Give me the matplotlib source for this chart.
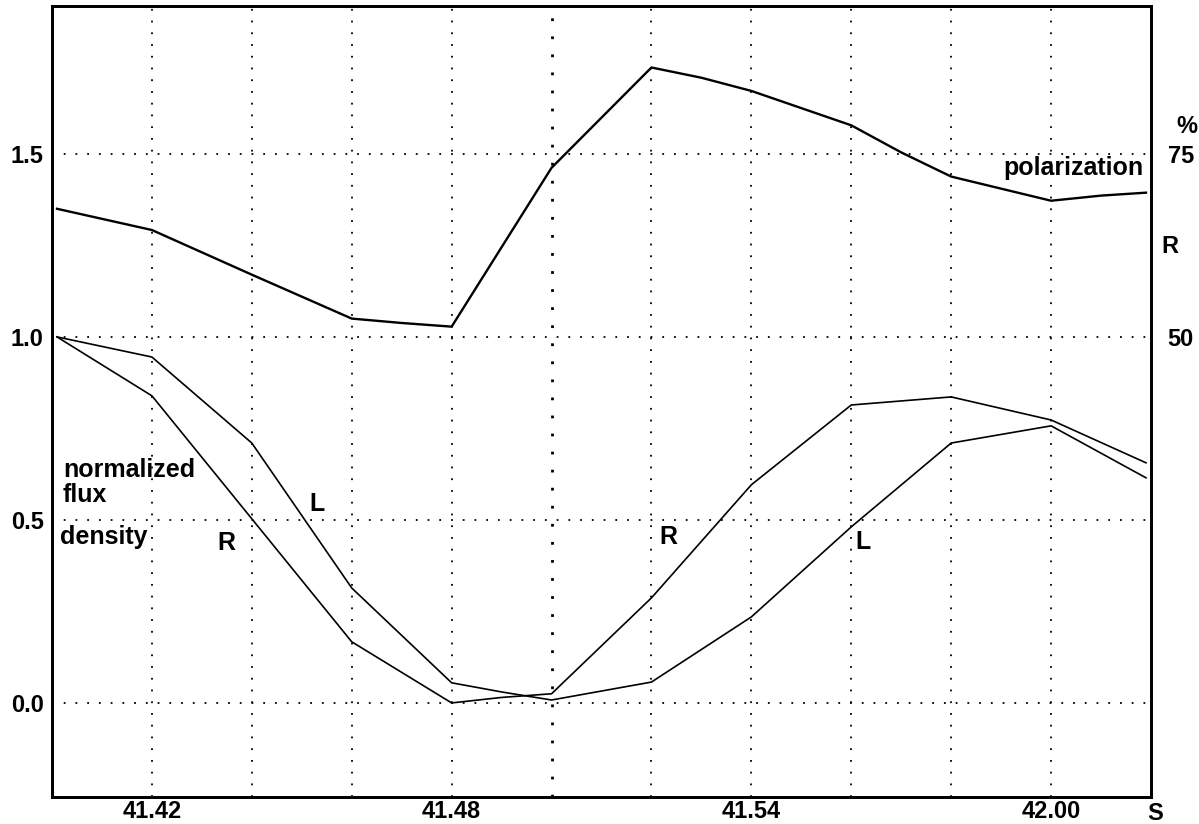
import numpy as np
import matplotlib
matplotlib.use('Agg')
import matplotlib.pyplot as plt

plt.rcParams['font.family'] = ['Liberation Sans', 'DejaVu Sans']
plt.rcParams['font.weight'] = 'bold'

# polarization (%)
t_pol = [41.401, 41.42, 41.44, 41.46, 41.47, 41.48, 41.50, 41.52, 41.53,
         41.54, 41.56, 41.57, 41.58, 41.60, 41.61, 41.619]
pol = [67.5, 64.6, 58.5, 52.5, 51.9, 51.4, 73.1, 86.8, 85.4,
       83.6, 78.9, 75.2, 71.9, 68.6, 69.3, 69.7]

# normalized flux density, R and L
t_flux = [41.401, 41.42, 41.44, 41.46, 41.48, 41.49, 41.50, 41.52, 41.54,
          41.56, 41.58, 41.60, 41.619]
flux_R = [1.0, 0.839, 0.503, 0.167, 0.0, 0.015, 0.025, 0.287, 0.596,
          0.814, 0.836, 0.773, 0.656]
flux_L = [1.0, 0.945, 0.710, 0.314, 0.055, 0.030, 0.008, 0.057, 0.235,
          0.481, 0.710, 0.757, 0.615]

grid_x = np.round(np.arange(41.42, 41.601, 0.02), 2)
xlabels = {41.42: '41.42', 41.48: '41.48', 41.54: '41.54', 41.60: '42.00'}
yticks = [0.0, 0.5, 1.0, 1.5]
ytick_labels = ['0.0', '0.5', '1.0', '1.5']
pct_ticks = [50, 75]

fig = plt.figure(figsize=(11.99, 8.24), dpi=100)
ax = fig.add_axes([52 / 1199, 27 / 824, 1099 / 1199, 791 / 824])

ax.plot(t_flux, flux_R, color='black', lw=1.2)
ax.plot(t_flux, flux_L, color='black', lw=1.2)

ax.set_xlim(41.40, 41.62)
ax.set_ylim(-0.257, 1.904)
ax.set_xticks(grid_x)
ax.set_xticklabels([xlabels.get(float(v), '') for v in grid_x])
ax.set_yticks(yticks)
ax.set_yticklabels(ytick_labels)
ax.tick_params(length=0, labelsize=17, pad=6)
ax.tick_params(axis='x', labelsize=17, pad=2.5)
ax.grid(True, color='black', lw=1.3, linestyle=(0, (1, 5.5)))
for v, gl in zip(grid_x, ax.get_xgridlines()):
    if abs(v - 41.50) < 1e-6:
        gl.set_linewidth(2.0)

ax2 = ax.twinx()
ax2.plot(t_pol, pol, color='black', lw=1.7)
lo, hi = ax.get_ylim()
ax2.set_ylim(lo * 50, hi * 50)
ax2.set_yticks(pct_ticks)
ax2.set_yticklabels([str(v) for v in pct_ticks])
ax2.tick_params(length=0, labelsize=17, pad=12)

for a in (ax, ax2):
    for s in a.spines.values():
        s.set_linewidth(2)

fs = 18
ax.text(41.4022, 0.637, 'normalized', fontsize=fs, va='center', ha='left')
ax.text(41.4022, 0.568, 'flux', fontsize=fs, va='center', ha='left')
ax.text(41.4016, 0.454, 'density', fontsize=fs, va='center', ha='left')
ax.text(41.435, 0.437, 'R', fontsize=fs, va='center', ha='center')
ax.text(41.453, 0.544, 'L', fontsize=fs, va='center', ha='center')
ax.text(41.5234, 0.454, 'R', fontsize=fs, va='center', ha='center')
ax.text(41.5624, 0.440, 'L', fontsize=fs, va='center', ha='center')
ax2.text(41.6185, 73.1, 'polarization', fontsize=fs, va='center', ha='right')
ax2.text(1.033, 78.7, '%', fontsize=17, va='center', ha='center',
         transform=ax2.get_yaxis_transform())
ax2.text(1.017, 62.3, 'R', fontsize=17, va='center', ha='center',
         transform=ax2.get_yaxis_transform())
ax.text(1.004, -0.021, 'S', fontsize=17, va='center', ha='center',
        transform=ax.transAxes)

fig.savefig('out.png', dpi=100)
